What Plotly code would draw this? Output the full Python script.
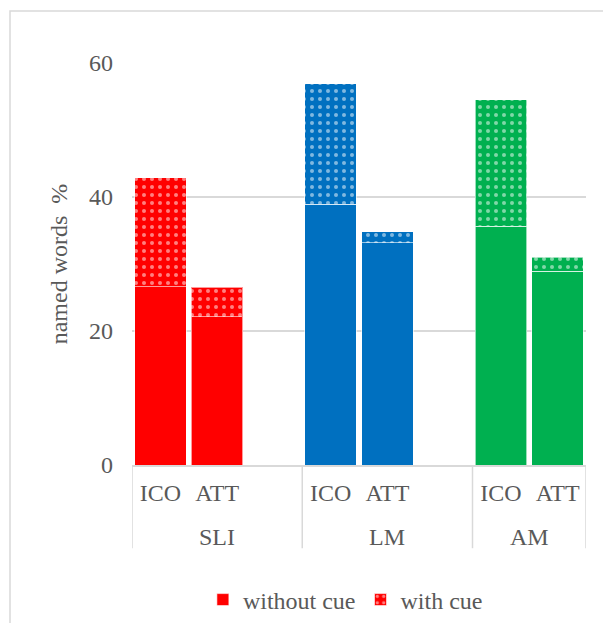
import plotly.graph_objects as go

# ---- data ----
groups = ["SLI", "LM", "AM"]
conditions = ["ICO", "ATT"]
without_cue = [26.6, 22.1, 38.9, 33.2, 35.6, 28.9]
with_cue = [16.3, 4.4, 18.0, 1.6, 18.9, 2.1]   # increment on top of "without cue"
group_colors = ["#FF0000", "#0070C0", "#00B050"]
y_ticks = [0, 20, 40, 60]

# slot layout: each group has ICO, ATT and an empty slot (except the last)
xpos = []
labels = []
bar_colors = []
for gi, g in enumerate(groups):
    for ci, c in enumerate(conditions):
        xpos.append(gi * 3 + ci)
        labels.append(c)
        bar_colors.append(group_colors[gi])

FONT = "Liberation Serif, Times New Roman, serif"
GREY = "#595959"
LINE = "#D9D9D9"
FS = 24

fig = go.Figure()
fig.add_trace(go.Bar(
    x=xpos, y=without_cue, name="without cue",
    marker=dict(color=bar_colors, line=dict(color="rgba(255,255,255,0.6)", width=1)),
    width=0.91, hoverinfo="y",
))
fig.add_trace(go.Bar(
    x=xpos, y=with_cue, name="with cue",
    marker=dict(color=bar_colors, line=dict(color="rgba(255,255,255,0.6)", width=1),
                pattern=dict(shape=".", fgcolor="white",
                             size=8, solidity=0.2, fillmode="overlay")),
    width=0.91, hoverinfo="y",
))

n_slots = len(groups) * 3 - 1
sep_x = [-0.5] + [gi * 3 + 2.5 for gi in range(len(groups) - 1)] + [n_slots - 0.5]

shapes = []
for sx in sep_x:
    shapes.append(dict(type="line", xref="x", yref="paper", x0=sx, x1=sx,
                       y0=0, y1=-0.207, line=dict(color=LINE, width=1.5)))
# chart-area frame
shapes.append(dict(type="rect", xref="paper", yref="paper",
                   x0=(10 - 132) / 454, x1=(620 - 132) / 454,
                   y0=(465 - 640) / 402, y1=(465 - 11) / 402,
                   line=dict(color=LINE, width=1.5), layer="below"))

annotations = []
for gi, g in enumerate(groups):
    annotations.append(dict(text=g, x=(sep_x[gi] + sep_x[gi + 1]) / 2, xref="x",
                            y=-0.18, yref="paper",
                            showarrow=False, yanchor="middle",
                            font=dict(family=FONT, size=FS, color=GREY)))

fig.update_layout(
    width=603, height=623,
    margin=dict(l=132, r=17, t=63, b=158),
    paper_bgcolor="white", plot_bgcolor="white",
    barmode="stack", bargap=0.09,
    font=dict(family=FONT, size=FS, color=GREY),
    shapes=shapes, annotations=annotations,
    legend=dict(orientation="h", x=0.47, xanchor="center",
                yref="container", y=1 - 600 / 623, yanchor="middle",
                font=dict(family=FONT, size=FS, color=GREY), itemwidth=30,
                traceorder="normal"),
    xaxis=dict(range=[-0.5, n_slots - 0.5], tickvals=xpos, ticktext=labels,
               showgrid=False, zeroline=False, showline=True, linecolor=LINE,
               linewidth=1.5, ticks="", ticklabelstandoff=5,
               tickfont=dict(family=FONT, size=FS, color=GREY)),
    yaxis=dict(range=[0, 60], tickvals=y_ticks, showgrid=True, gridcolor=LINE,
               gridwidth=1.5, zeroline=False, ticks="", ticklabelstandoff=18,
               tickfont=dict(family=FONT, size=FS, color=GREY),
               title=dict(text="named words  %", standoff=14,
                          font=dict(family=FONT, size=FS, color=GREY))),
)

fig.write_html("out.html", config={"displayModeBar": False},
               post_script="document.body.style.margin='0px';")
